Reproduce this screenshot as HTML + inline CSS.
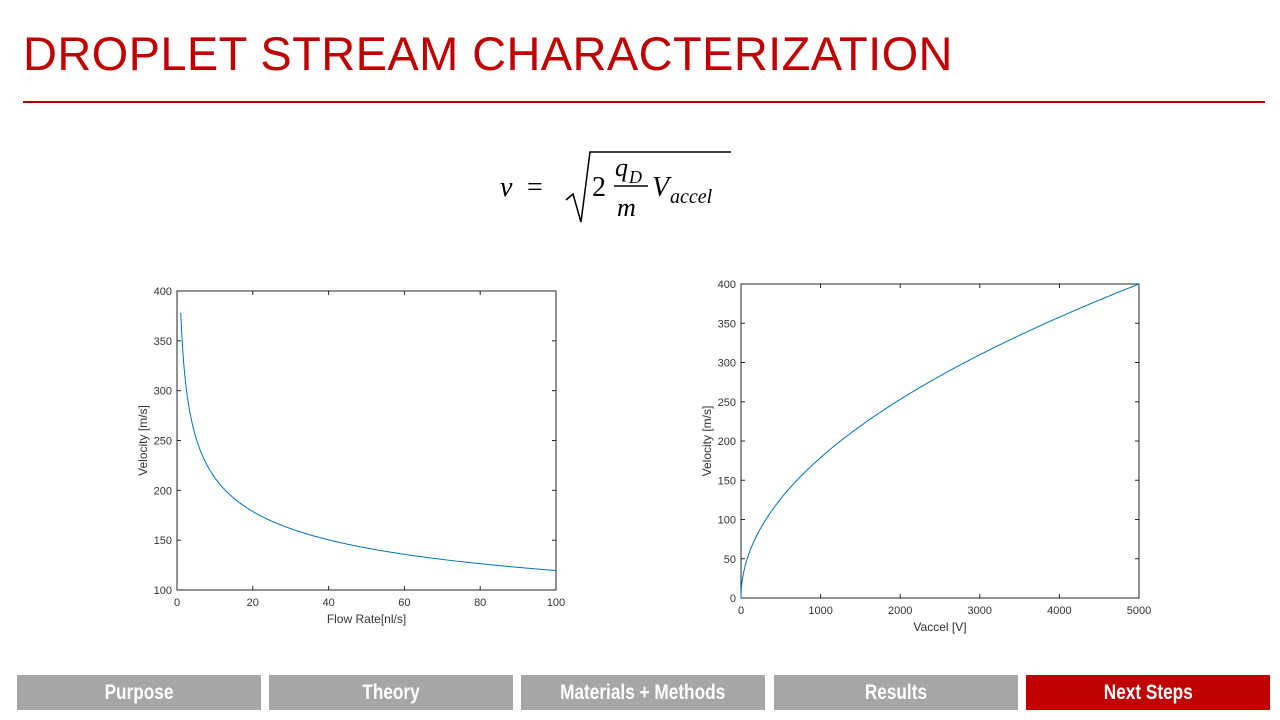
<!DOCTYPE html>
<html><head><meta charset="utf-8"><style>
body{margin:0;width:1280px;height:720px;background:#fff;overflow:hidden;position:relative;font-family:"Liberation Sans",sans-serif}
.t{position:absolute;left:23px;top:26px;font-size:47px;color:#c00000;letter-spacing:0.4px}
.hr{position:absolute;left:23px;top:101px;width:1242px;height:2px;background:#c00000}
.nav{position:absolute;top:675px;height:35px;width:244px;background:#a6a6a6;color:#fff;font-family:"Liberation Sans",sans-serif;font-weight:bold;font-size:21px;text-align:center;line-height:36px}
.nav span{display:inline-block;transform:scaleX(0.82)}
svg{position:absolute;left:0;top:0}
</style></head><body>
<div class="t">DROPLET STREAM CHARACTERIZATION</div>
<div class="hr"></div>
<svg width="1280" height="720" id="s">
<g font-family="Liberation Serif,serif" font-style="italic" font-size="28" fill="#000">
<text x="500" y="196">v</text>
<text x="527" y="196" font-style="normal">=</text>
<text x="592" y="196" font-style="normal">2</text>
<text x="615" y="176" font-size="26">q</text><text x="629" y="183" font-size="18">D</text>
<line x1="614" y1="186" x2="648" y2="186" stroke="#000" stroke-width="1.5"/>
<text x="617" y="216" font-size="26">m</text>
<text x="652" y="196">V</text><text x="670" y="203" font-size="20">accel</text>
</g>
<path d="M566 200 L573 194 L581 222 L590 152 L731 152" fill="none" stroke="#000" stroke-width="1.5"/>
<g id="charts" font-size="11" fill="#333"></g>
</svg>
<div class="nav" style="left:17px"><span>Purpose</span></div>
<div class="nav" style="left:269px"><span>Theory</span></div>
<div class="nav" style="left:521px"><span>Materials + Methods</span></div>
<div class="nav" style="left:774px"><span>Results</span></div>
<div class="nav" style="left:1026px;background:#c00000"><span>Next Steps</span></div>
<script>
var g=document.getElementById('charts'),h='';
function chart(x0,x1,y0,y1,xmin,xmax,ymin,ymax,xt,yt,xl,yl,f,fs,fe){
 var X=v=>x0+(v-xmin)/(xmax-xmin)*(x1-x0),Y=v=>y1-(v-ymin)/(ymax-ymin)*(y1-y0);
 h+=`<rect x="${x0}" y="${y0}" width="${x1-x0}" height="${y1-y0}" fill="#fff" stroke="#262626" stroke-width="1"/>`;
 xt.forEach(v=>{var x=X(v);h+=`<line x1="${x}" y1="${y1}" x2="${x}" y2="${y1-4}" stroke="#262626"/><line x1="${x}" y1="${y0}" x2="${x}" y2="${y0+4}" stroke="#262626"/><text x="${x}" y="${y1+16}" text-anchor="middle">${v}</text>`});
 yt.forEach(v=>{var y=Y(v);h+=`<line x1="${x0}" y1="${y}" x2="${x0+4}" y2="${y}" stroke="#262626"/><line x1="${x1}" y1="${y}" x2="${x1-4}" y2="${y}" stroke="#262626"/><text x="${x0-5}" y="${y+4}" text-anchor="end">${v}</text>`});
 h+=`<text x="${(x0+x1)/2}" y="${y1+33}" text-anchor="middle" font-size="12">${xl}</text>`;
 h+=`<text transform="translate(${x0-30},${(y0+y1)/2}) rotate(-90)" text-anchor="middle" font-size="12">${yl}</text>`;
 var d='';for(var i=0;i<=600;i++){var v=fs+(fe-fs)*Math.pow(i/600,2);d+=(i?'L':'M')+X(v).toFixed(2)+' '+Y(f(v)).toFixed(2)}
 h+=`<path d="${d}" fill="none" stroke="#0072bd" stroke-width="1"/>`;
}
chart(177,556,291,590,0,100,100,400,[0,20,40,60,80,100],[100,150,200,250,300,350,400],'Flow Rate[nl/s]','Velocity [m/s]',v=>378*Math.pow(v,-0.25),1,100);
chart(741,1139,284,598,0,5000,0,400,[0,1000,2000,3000,4000,5000],[0,50,100,150,200,250,300,350,400],'Vaccel [V]','Velocity [m/s]',v=>400*Math.sqrt(v/5000),0,5000);
g.innerHTML=h;
</script>
</body></html>
